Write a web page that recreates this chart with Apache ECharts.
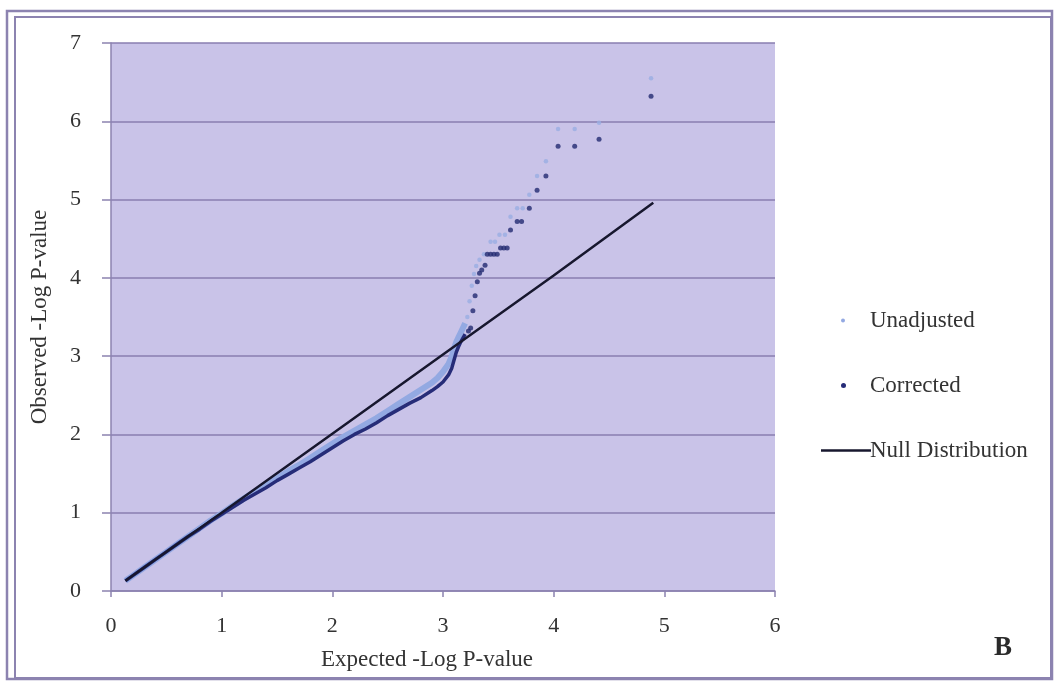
<!DOCTYPE html>
<html>
<head>
<meta charset="utf-8">
<script src="https://cdn.jsdelivr.net/npm/echarts@6/dist/echarts.min.js"></script>
<style>
  html, body { margin: 0; padding: 0; background: #ffffff; }
  #chart { width: 1057px; height: 684px; }
</style>
</head>
<body>
<div id="chart"></div>
<script>
// Q-Q plot of -log10 p-values: observed vs expected
const xTicks = [0, 1, 2, 3, 4, 5, 6];
const yTicks = [0, 1, 2, 3, 4, 5, 6, 7];

// Dense body of the distribution (drawn as a continuous band)
const bodyExpected   = [0.13, 0.2, 0.3, 0.4, 0.5, 0.6, 0.7, 0.8, 0.9, 1.0, 1.1, 1.2, 1.3, 1.4, 1.5, 1.6, 1.7, 1.8, 1.9, 2.0, 2.1, 2.2, 2.3, 2.4, 2.5, 2.6, 2.7, 2.8, 2.9, 2.95, 3.0, 3.05, 3.08, 3.1, 3.12, 3.14, 3.16, 3.18, 3.2];
const unadjustedBody = [0.13, 0.2, 0.3, 0.4, 0.5, 0.6, 0.7, 0.8, 0.9, 0.99, 1.09, 1.18, 1.27, 1.35, 1.44, 1.53, 1.61, 1.7, 1.79, 1.88, 1.97, 2.05, 2.13, 2.21, 2.3, 2.39, 2.48, 2.57, 2.66, 2.72, 2.8, 2.9, 3.0, 3.1, 3.18, 3.24, 3.3, 3.36, 3.42];
const correctedBody  = [0.13, 0.2, 0.3, 0.4, 0.5, 0.6, 0.7, 0.79, 0.89, 0.98, 1.07, 1.16, 1.24, 1.32, 1.41, 1.49, 1.57, 1.65, 1.74, 1.83, 1.92, 2.0, 2.07, 2.15, 2.24, 2.32, 2.4, 2.47, 2.56, 2.61, 2.67, 2.76, 2.85, 2.95, 3.05, 3.12, 3.18, 3.23, 3.28];

// Sparse upper tail (individual points)
const unadjustedTailX = [3.22, 3.24, 3.26, 3.28, 3.3, 3.33, 3.37, 3.43, 3.47, 3.51, 3.56, 3.61, 3.67, 3.72, 3.78, 3.85, 3.93, 4.04, 4.19, 4.41, 4.88];
const unadjustedTailY = [3.5, 3.7, 3.9, 4.05, 4.15, 4.23, 4.3, 4.46, 4.46, 4.55, 4.55, 4.78, 4.89, 4.89, 5.06, 5.3, 5.49, 5.9, 5.9, 5.98, 6.55];
const correctedTailX  = [3.23, 3.25, 3.27, 3.29, 3.31, 3.33, 3.35, 3.38, 3.4, 3.43, 3.46, 3.49, 3.52, 3.55, 3.58, 3.61, 3.67, 3.71, 3.78, 3.85, 3.93, 4.04, 4.19, 4.41, 4.88];
const correctedTailY  = [3.32, 3.36, 3.58, 3.77, 3.95, 4.06, 4.1, 4.16, 4.3, 4.3, 4.3, 4.3, 4.38, 4.38, 4.38, 4.61, 4.72, 4.72, 4.89, 5.12, 5.3, 5.68, 5.68, 5.77, 6.32];

// Null expectation line
const nullExpected = [0.13, 1.0, 2.0, 3.0, 4.0, 4.9];
const nullObserved = [0.13, 1.0, 2.01, 3.02, 4.03, 4.96];

const zip = (xs, ys) => xs.map((x, i) => [x, ys[i]]);

const FONT = '"Liberation Serif", "DejaVu Serif", serif';
const TEXT = '#333333';
const FRAME = '#8c83b0';

const chart = echarts.init(document.getElementById('chart'), null, { renderer: 'canvas' });

chart.setOption({
  animation: false,
  backgroundColor: '#ffffff',
  grid: {
    left: 111, top: 43, width: 664, height: 548,
    show: true, backgroundColor: '#c9c3e8', borderWidth: 0
  },
  xAxis: {
    type: 'value', min: xTicks[0], max: xTicks[xTicks.length - 1], interval: 1,
    name: 'Expected -Log P-value', nameLocation: 'middle', nameGap: 57,
    nameTextStyle: { fontFamily: FONT, fontSize: 23, color: TEXT, padding: [0, 32, 0, 0] },
    axisLine: { lineStyle: { color: FRAME, width: 1.5 } },
    axisTick: { show: true, length: 6, lineStyle: { color: FRAME, width: 1.5 } },
    axisLabel: { fontFamily: FONT, fontSize: 22, color: TEXT, margin: 24 },
    splitLine: { show: false }
  },
  yAxis: {
    type: 'value', min: yTicks[0], max: yTicks[yTicks.length - 1], interval: 1,
    name: 'Observed -Log P-value', nameLocation: 'middle', nameGap: 60,
    nameTextStyle: { fontFamily: FONT, fontSize: 23, color: TEXT },
    axisLine: { show: true, lineStyle: { color: FRAME, width: 1.5 } },
    axisTick: { show: true, length: 9, lineStyle: { color: FRAME, width: 1.5 } },
    axisLabel: { fontFamily: FONT, fontSize: 22, color: TEXT, margin: 30 },
    splitLine: { show: true, lineStyle: { color: '#887eb0', width: 1.5 } }
  },
  legend: [
    {
      data: [{ name: 'Unadjusted', icon: 'circle' }],
      left: 836, top: 304, itemWidth: 4, itemHeight: 4,
      textStyle: { fontFamily: FONT, fontSize: 23, color: TEXT, padding: [0, 0, 0, 20] }
    },
    {
      data: [{ name: 'Corrected', icon: 'circle' }],
      left: 836, top: 369, itemWidth: 5, itemHeight: 5,
      textStyle: { fontFamily: FONT, fontSize: 23, color: TEXT, padding: [0, 0, 0, 19] }
    },
    {
      data: [{ name: 'Null Distribution', icon: 'rect' }],
      left: 816, top: 434, itemWidth: 50, itemHeight: 2.5,
      textStyle: { fontFamily: FONT, fontSize: 23, color: TEXT, padding: [0, 0, 0, -6] }
    }
  ],
  series: [
    {
      name: 'Unadjusted', type: 'line', color: '#93a9e2',
      data: zip(bodyExpected, unadjustedBody),
      showSymbol: false, lineStyle: { width: 6, color: '#93a9e2' }, z: 2
    },
    {
      name: 'Unadjusted', type: 'scatter', color: '#93a9e2',
      data: zip(unadjustedTailX, unadjustedTailY),
      symbolSize: 4.5, itemStyle: { color: '#9aaee2' }, z: 2
    },
    {
      name: 'Corrected', type: 'line', color: '#262c78',
      data: zip(bodyExpected, correctedBody),
      showSymbol: false, lineStyle: { width: 3.5, color: '#262c78' }, z: 3
    },
    {
      name: 'Corrected', type: 'scatter', color: '#262c78',
      data: zip(correctedTailX, correctedTailY),
      symbolSize: 5, itemStyle: { color: '#232a70' }, z: 3
    },
    {
      name: 'Null Distribution', type: 'line', color: '#17172e',
      data: zip(nullExpected, nullObserved),
      showSymbol: false, lineStyle: { width: 2.5, color: '#17172e' }, z: 4
    }
  ],
  graphic: [
    {
      type: 'rect', silent: true, z: 10,
      shape: { x: 7, y: 11, width: 1045, height: 668 },
      style: { fill: 'none', stroke: FRAME, lineWidth: 2.5 }
    },
    {
      type: 'rect', silent: true, z: 10,
      shape: { x: 15, y: 17, width: 1036, height: 661 },
      style: { fill: 'none', stroke: FRAME, lineWidth: 2 }
    },
    {
      type: 'text', silent: true, z: 10, left: 994, top: 635,
      style: { text: 'B', font: 'bold 27px "Liberation Serif", serif', fill: '#2a2a2a' }
    }
  ]
});
</script>
</body>
</html>
